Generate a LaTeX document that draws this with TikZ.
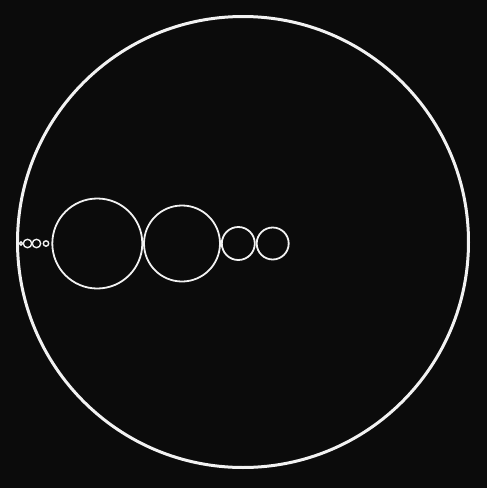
\documentclass[tikz,border=0pt]{standalone}
\usepackage{tikz}
\usetikzlibrary{positioning}
\definecolor{bg}{HTML}{0B0B0B}
\definecolor{ink}{HTML}{F2F2F2}
\tikzstyle{ring} = [shape=circle, draw=ink, line width=1.8pt, inner sep=0pt, outer sep=0pt]
\tikzstyle{dot} = [shape=circle, draw=ink, line width=1.4pt, inner sep=0pt, outer sep=0pt]

\begin{document}
\begin{tikzpicture}[x=1pt,y=-1pt]
    \fill[bg] (0,0) rectangle (487,488);
    \useasboundingbox (0,0) rectangle (487,488);
    \node[ring,line width=3pt,minimum size=451pt] (outer) at (243,242) {};

    \node[dot,minimum size=3.2pt] (s1) at (21,243.5) {};
    \node[dot,minimum size=8.4pt] (s2) at (27.5,243.5) {};
    \node[dot,minimum size=8.4pt] (s3) at (36.5,243.5) {};
    \node[dot,minimum size=5.4pt] (s4) at (46,243.5) {};

    \node[ring,minimum size=90pt] (c1) at (97.3,243.5) {};
    \node[ring,minimum size=76pt] (c2) at (182,243.5) {};
    \node[ring,minimum size=33pt] (c3) at (238.3,243.5) {};
    \node[ring,minimum size=32pt] (c4) at (272.7,243.5) {};
\end{tikzpicture}
\end{document}
